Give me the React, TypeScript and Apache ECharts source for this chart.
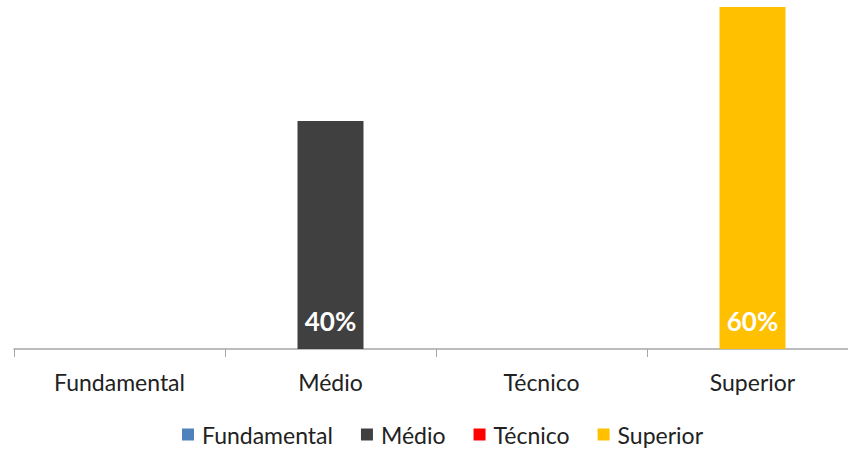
import React, { useEffect, useRef } from "react";
import * as echarts from "echarts";

const categories = ["Fundamental", "Médio", "Técnico", "Superior"];
const seriesNames = ["Fundamental", "Médio", "Técnico", "Superior"];
const values = [0, 40, 0, 60];
const colors = ["#4F81BD", "#404040", "#FF0000", "#FFC000"];

export default function App() {
  const ref = useRef<HTMLDivElement>(null);
  useEffect(() => {
    document.body.style.margin = "0";
    if (!ref.current) return;
    const chart = echarts.init(ref.current, null, { renderer: "svg" });
    const font = "Lato, 'Open Sans', sans-serif";
    chart.setOption({
      animation: false,
      textStyle: { fontFamily: font },
      grid: { left: 14, width: 844, top: 7, bottom: 101, outerBoundsMode: "none", containLabel: false },
      legend: {
        top: 423,
        left: 182,
        padding: 0,
        itemWidth: 12,
        itemHeight: 12,
        itemGap: 28,
        icon: "rect",
        textStyle: { fontSize: 23, color: "#222", fontFamily: font, padding: [0, 0, 0, 3] },
        data: seriesNames,
      },
      xAxis: {
        type: "category",
        data: categories,
        axisLine: { lineStyle: { color: "#A6A6A6", width: 1.5 } },
        axisTick: { show: true, length: 8, lineStyle: { color: "#A6A6A6" } },
        axisLabel: { fontSize: 23, color: "#222", margin: 21, fontFamily: font },
      },
      yAxis: {
        type: "value",
        min: 0,
        max: 60,
        show: false,
        splitLine: { show: false },
      },
      series: seriesNames.map((name, i) => ({
        name,
        type: "bar",
        stack: "total",
        barWidth: 66,
        itemStyle: { color: colors[i] },
        data: categories.map((_, j) => (j === i && values[j] > 0 ? values[j] : null)),
        label: {
          show: true,
          position: "insideBottom",
          distance: 15,
          color: "#fff",
          fontWeight: "bold",
          fontSize: 26,
          fontFamily: font,
          formatter: (p: any) => `${p.value}%`,
        },
      })),
    });
    return () => chart.dispose();
  }, []);
  return <div ref={ref} style={{ width: 848, height: 450 }} />;
}
